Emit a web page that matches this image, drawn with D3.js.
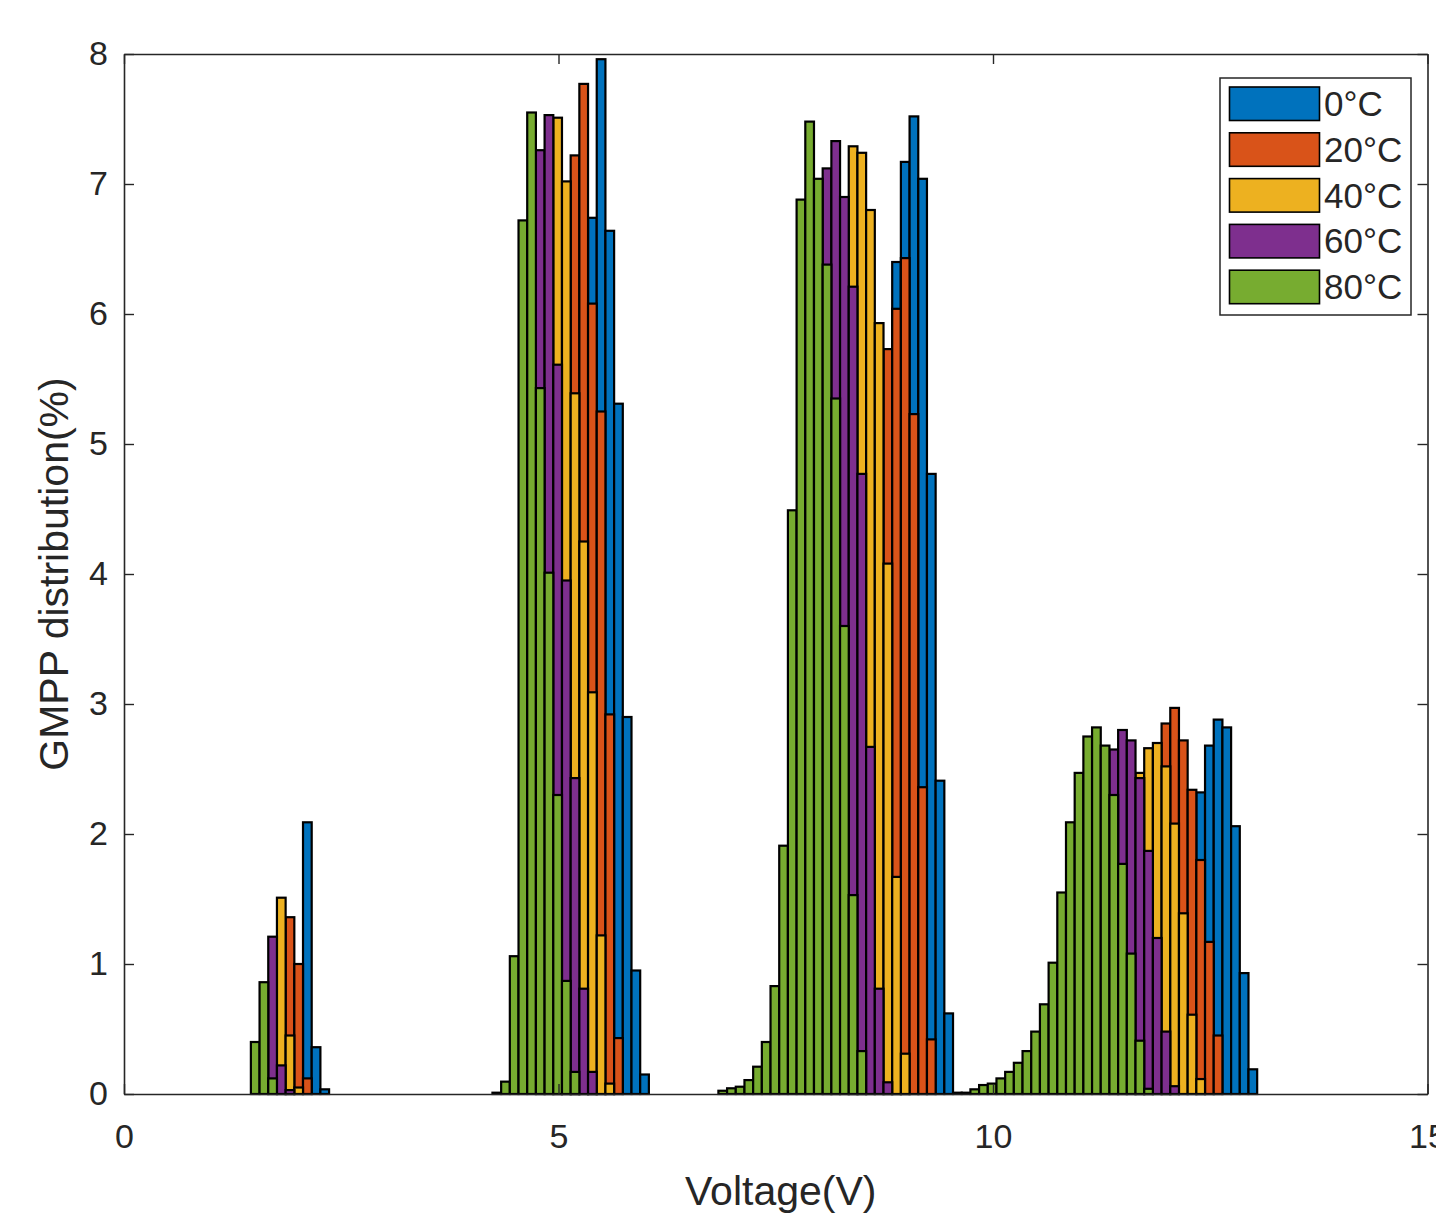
<!DOCTYPE html>
<html>
<head>
<meta charset="utf-8">
<script src="https://cdn.jsdelivr.net/npm/d3@7"></script>
<style>
  body { margin: 0; background: #fff; }
  svg { display: block; }
  text { font-family: "Liberation Sans", Arial, Helvetica, sans-serif; fill: #262626; }
</style>
</head>
<body>
<svg id="chart" width="1436" height="1215"></svg>
<script>
// ---------------- DATA ----------------
const seriesNames = ["0°C", "20°C", "40°C", "60°C", "80°C"];
const seriesColors = ["#0072BD", "#D95319", "#EDB120", "#7E2F8E", "#77AC30"];
const binWidth = 0.1;                       // V
const clusterStarts = [1.46, 4.24, 6.84, 9.54]; // left edge of first bin of each group (V)
const xTicks = [0, 5, 10, 15];
const yTicks = [0, 1, 2, 3, 4, 5, 6, 7, 8];

// GMPP distribution (%) per bin, one sub-array per group of bins
const v0C = [
  [0, 0, 0, 0, 0, 0, 2.09, 0.36, 0.036],
  [0, 0, 0, 0, 0, 0, 0, 0, 0, 0, 0, 6.74, 7.96, 6.64, 5.31, 2.90, 0.95, 0.15],
  [0, 0, 0, 0, 0, 0, 0, 0, 0, 0, 0, 0, 0, 0, 0, 0, 0, 0, 0, 0, 6.40, 7.17, 7.52, 7.04, 4.77, 2.41, 0.62],
  [0, 0, 0, 0, 0, 0, 0, 0, 0, 0, 0, 0, 0, 0, 0, 0, 0, 0, 0, 0, 0, 0, 0, 0, 0, 0, 0, 0, 2.32, 2.68, 2.88, 2.82, 2.06, 0.93, 0.19]
];
const v20C = [
  [0, 0, 0, 0, 1.36, 1.00, 0.12, 0, 0],
  [0, 0, 0, 0, 0, 0, 0, 0, 0, 7.22, 7.77, 6.08, 5.25, 2.92, 0.43, 0, 0, 0],
  [0, 0, 0, 0, 0, 0, 0, 0, 0, 0, 0, 0, 0, 0, 0, 0, 0, 0, 0, 5.73, 6.04, 6.43, 5.23, 2.36, 0.42, 0, 0],
  [0, 0, 0, 0, 0, 0, 0, 0, 0, 0, 0, 0, 0, 0, 0, 0, 0, 0, 0, 0, 0, 0, 0, 0, 2.85, 2.97, 2.72, 2.34, 1.80, 1.17, 0.45, 0, 0, 0, 0]
];
const v40C = [
  [0, 0, 0, 1.51, 0.45, 0.05, 0, 0, 0],
  [0, 0, 0, 0, 0, 0, 0, 7.51, 7.02, 5.39, 4.25, 3.09, 1.22, 0.08, 0, 0, 0, 0],
  [0, 0, 0, 0, 0, 0, 0, 0, 0, 0, 0, 0, 0, 0, 0, 7.29, 7.24, 6.80, 5.93, 4.08, 1.67, 0.31, 0, 0, 0, 0, 0],
  [0, 0, 0, 0, 0, 0, 0, 0, 0, 0, 0, 0, 0, 0, 0, 0, 0, 0, 0, 0, 0, 2.47, 2.66, 2.70, 2.52, 2.08, 1.39, 0.61, 0.115, 0, 0, 0, 0, 0, 0]
];
const v60C = [
  [0, 0, 1.21, 0.22, 0.03, 0, 0, 0, 0],
  [0, 0, 0, 0, 0, 7.26, 7.53, 5.61, 3.95, 2.43, 0.81, 0.17, 0, 0, 0, 0, 0, 0],
  [0, 0, 0, 0, 0, 0, 0, 0, 0, 0, 0, 0, 7.12, 7.33, 6.90, 6.21, 4.77, 2.67, 0.81, 0.09, 0, 0, 0, 0, 0, 0, 0],
  [0, 0, 0, 0, 0, 0, 0, 0, 0, 0, 0, 0, 0, 0, 0, 0, 0, 0, 2.65, 2.80, 2.72, 2.43, 1.87, 1.20, 0.48, 0.06, 0, 0, 0, 0, 0, 0, 0, 0, 0]
];
const v80C = [
  [0.40, 0.86, 0.12, 0, 0, 0, 0, 0, 0],
  [0.01, 0.095, 1.06, 6.72, 7.55, 5.43, 4.01, 2.30, 0.87, 0.17, 0, 0, 0, 0, 0, 0, 0, 0],
  [0.025, 0.044, 0.056, 0.107, 0.21, 0.40, 0.83, 1.91, 4.49, 6.88, 7.48, 7.04, 6.38, 5.35, 3.60, 1.53, 0.33, 0, 0, 0, 0, 0, 0, 0, 0, 0, 0],
  [0.01, 0.01, 0.036, 0.069, 0.08, 0.12, 0.17, 0.24, 0.33, 0.48, 0.69, 1.01, 1.55, 2.09, 2.47, 2.75, 2.82, 2.68, 2.30, 1.77, 1.08, 0.41, 0.04, 0, 0, 0, 0, 0, 0, 0, 0, 0, 0, 0, 0]
];
const seriesValues = [v0C, v20C, v40C, v60C, v80C];

// ---------------- LAYOUT ----------------
const W = 1436, H = 1215;
const plot = { left: 124, right: 1427.5, top: 54, bottom: 1094 };
const axisColor = "#262626";

const svg = d3.select("#chart");
const x = d3.scaleLinear().domain([0, 15]).range([plot.left, plot.right]);
const y = d3.scaleLinear().domain([0, 8]).range([plot.bottom, plot.top]);

// Bars: draw series in order (0°C first, 80°C on top)
const bars = [];
seriesValues.forEach((groups, s) => {
  groups.forEach((vals, g) => {
    vals.forEach((v, i) => {
      if (v > 0) {
        const x0 = clusterStarts[g] + i * binWidth;
        bars.push({ s, x0, x1: x0 + binWidth, v });
      }
    });
  });
});

svg.append("g").selectAll("rect").data(bars).join("rect")
  .attr("x", d => x(d.x0))
  .attr("width", d => x(d.x1) - x(d.x0))
  .attr("y", d => y(d.v))
  .attr("height", d => y(0) - y(d.v))
  .attr("fill", d => seriesColors[d.s])
  .attr("stroke", "#000")
  .attr("stroke-width", 2.2);

// Axes (ticks pointing inward, MATLAB style)
const tickLen = 10;
const fontTick = 34;

const gx = svg.append("g").attr("transform", `translate(0,${plot.bottom})`)
  .call(d3.axisBottom(x).tickValues(xTicks).tickFormat(d3.format("d"))
    .tickSizeInner(-tickLen).tickSizeOuter(0).tickPadding(30));
const gxTop = svg.append("g").attr("transform", `translate(0,${plot.top})`)
  .call(d3.axisTop(x).tickValues(xTicks).tickFormat("")
    .tickSizeInner(-tickLen).tickSizeOuter(0));
const gy = svg.append("g").attr("transform", `translate(${plot.left},0)`)
  .call(d3.axisLeft(y).tickValues(yTicks).tickFormat(d3.format("d"))
    .tickSizeInner(-tickLen).tickSizeOuter(0).tickPadding(16));
const gyRight = svg.append("g").attr("transform", `translate(${plot.right},0)`)
  .call(d3.axisRight(y).tickValues(yTicks).tickFormat("")
    .tickSizeInner(-tickLen).tickSizeOuter(0));

[gx, gxTop, gy, gyRight].forEach(g => {
  g.select(".domain").attr("stroke", axisColor).attr("stroke-width", 1.6);
  g.selectAll(".tick line").attr("stroke", axisColor).attr("stroke-width", 1.4);
  g.selectAll(".tick text").attr("font-size", fontTick)
    .attr("font-family", '"Liberation Sans", Arial, sans-serif').attr("fill", axisColor);
});

// Axis labels
svg.append("text")
  .attr("x", (plot.left + plot.right) / 2 + 5)
  .attr("y", 1205)
  .attr("text-anchor", "middle")
  .attr("font-size", 41)
  .text("Voltage(V)");

svg.append("text")
  .attr("transform", `translate(68,${(plot.top + plot.bottom) / 2}) rotate(-90)`)
  .attr("text-anchor", "middle")
  .attr("font-size", 41)
  .text("GMPP distribution(%)");

// Legend
const lg = svg.append("g");
lg.append("rect")
  .attr("x", 1220).attr("y", 78).attr("width", 191).attr("height", 237)
  .attr("fill", "#fff").attr("stroke", axisColor).attr("stroke-width", 1.5);
const lgItem = lg.selectAll("g.item").data(seriesNames).join("g")
  .attr("class", "item")
  .attr("transform", (d, i) => `translate(0,${87 + i * 45.8})`);
lgItem.append("rect")
  .attr("x", 1229.5).attr("y", 0).attr("width", 90).attr("height", 33.5)
  .attr("fill", (d, i) => seriesColors[i])
  .attr("stroke", "#000").attr("stroke-width", 1.6);
lgItem.append("text")
  .attr("x", 1324).attr("y", 29)
  .attr("font-size", 35)
  .text(d => d);
</script>
</body>
</html>
